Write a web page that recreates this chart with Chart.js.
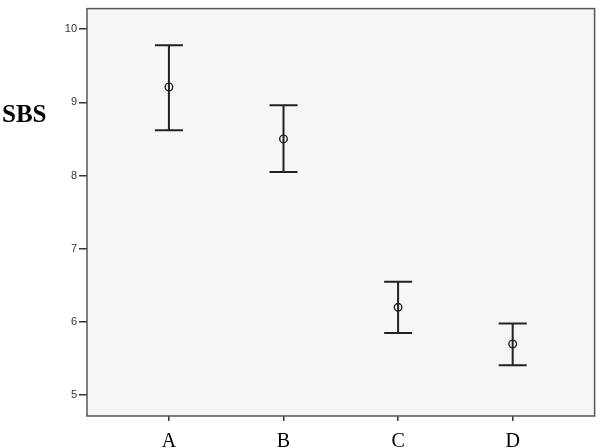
<!DOCTYPE html>
<html>
<head>
<meta charset="utf-8">
<script src="https://cdn.jsdelivr.net/npm/chart.js@4"></script>
<style>
  html, body { margin: 0; padding: 0; background: #fff; }
  #wrap { width: 600px; height: 448px; }
</style>
</head>
<body>
<div id="wrap"><canvas id="chart" width="600" height="448"></canvas></div>
<script>
const categories = ["A", "B", "C", "D"];
const means = [9.21, 8.5, 6.2, 5.7];
const upper = [9.78, 8.96, 6.55, 5.98];
const lower = [8.62, 8.05, 5.85, 5.41];
const yTicks = [5, 6, 7, 8, 9, 10];
const yTitle = "SBS";

// frame, background and error bars
const errorBars = {
  id: "errorBars",
  beforeDatasetsDraw(chart) {
    const { ctx, chartArea: a, scales } = chart;
    ctx.save();
    ctx.fillStyle = "#f6f6f6";
    ctx.fillRect(a.left, a.top, a.right - a.left, a.bottom - a.top);
    ctx.strokeStyle = "#555";
    ctx.lineWidth = 1.5;
    ctx.strokeRect(a.left, a.top, a.right - a.left, a.bottom - a.top);

    ctx.strokeStyle = "#222";
    ctx.lineWidth = 2;
    categories.forEach((c, i) => {
      const x = scales.x.getPixelForValue(i + 1);
      const yu = scales.y.getPixelForValue(upper[i]);
      const yl = scales.y.getPixelForValue(lower[i]);
      ctx.beginPath();
      ctx.moveTo(x, yu); ctx.lineTo(x, yl);
      ctx.moveTo(x - 14, yu); ctx.lineTo(x + 14, yu);
      ctx.moveTo(x - 14, yl); ctx.lineTo(x + 14, yl);
      ctx.stroke();
    });
    ctx.restore();
  },
  afterDraw(chart) {
    const ctx = chart.ctx;
    ctx.save();
    ctx.fillStyle = "#000";
    ctx.font = "bold 25px 'Liberation Serif', 'Times New Roman', serif";
    ctx.textBaseline = "alphabetic";
    ctx.fillText(yTitle, 2, 122);
    ctx.restore();
  }
};

new Chart(document.getElementById("chart"), {
  type: "scatter",
  data: {
    datasets: [{
      data: means.map((m, i) => ({ x: i + 1, y: m })),
      pointStyle: "circle",
      pointRadius: 3.8,
      pointBorderWidth: 1.4,
      borderColor: "#222",
      backgroundColor: "rgba(0,0,0,0)",
    }],
  },
  options: {
    responsive: false,
    animation: false,
    layout: { padding: { top: 4, right: 5, left: 0, bottom: 0 } },
    plugins: { legend: { display: false }, tooltip: { enabled: false } },
    scales: {
      x: {
        type: "linear",
        min: 0.285,
        max: 4.715,
        afterBuildTicks: (s) => { s.ticks = categories.map((c, i) => ({ value: i + 1 })); },
        afterFit: (s) => { s.height = 32; },
        border: { display: false },
        grid: { drawOnChartArea: false, tickLength: 5, color: "#333", lineWidth: 1.5 },
        ticks: {
          color: "#000",
          padding: 9,
          font: { family: "'Liberation Serif', 'Times New Roman', serif", size: 20 },
          callback: (v) => categories[v - 1],
        },
      },
      y: {
        min: 4.716,
        max: 10.28,
        afterBuildTicks: (s) => { s.ticks = yTicks.map((v) => ({ value: v })); },
        afterFit: (s) => { s.width = 87; },
        border: { display: false },
        grid: { drawOnChartArea: false, tickLength: 8, color: "#333", lineWidth: 1.5 },
        ticks: {
          color: "#333",
          padding: 2,
          font: { family: "'Liberation Sans', Arial, sans-serif", size: 11 },
        },
      },
    },
  },
  plugins: [errorBars],
});
</script>
</body>
</html>
